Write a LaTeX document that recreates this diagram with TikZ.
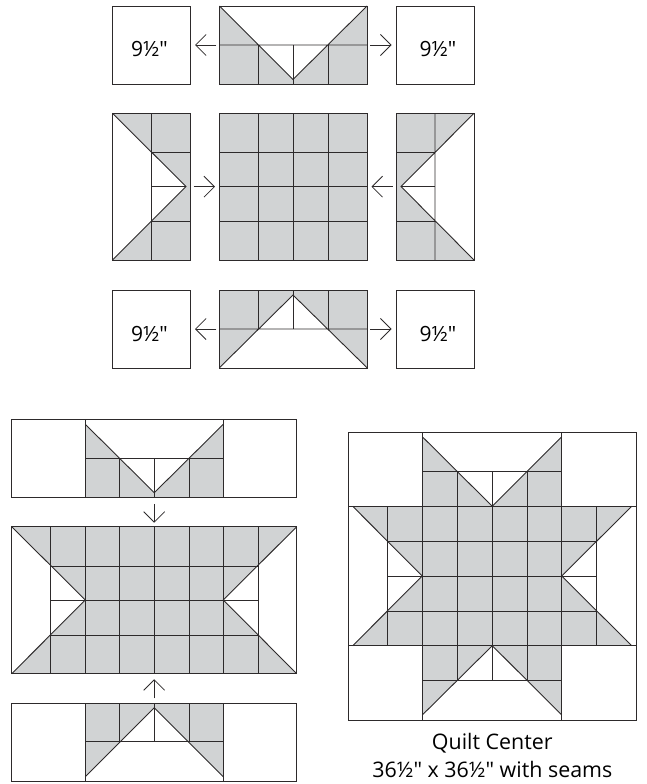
\documentclass[tikz,border=0pt]{standalone}
\usepackage{fontspec}
\newfontfamily\quiltfont{Open Sans}
\usepackage{xcolor}
\usetikzlibrary{arrows.meta}
\definecolor{patchgray}{RGB}{209,211,212}
\definecolor{seamink}{RGB}{45,42,43}
\newcommand{\nine}[1]{\raisebox{-12pt}[0pt][0pt]{\hspace{#1}9½"}}
\begin{document}
\begin{tikzpicture}[
      x=1pt,y=-1pt,
      font=\quiltfont\fontsize{21pt}{24pt}\selectfont,
      block/.style={draw=seamink,line width=0.9pt,inner sep=0pt,outer sep=0pt,
                    minimum width=#1,minimum height=78pt},
      block/.default=78pt,
      patch/.style={fill=patchgray},
      seam/.style={draw=seamink,line width=0.9pt},
      ar/.style={-{Straight Barb[length=10.5pt,width=21pt]},line width=0.8pt,color=seamink,
                 shorten >=4.5pt,shorten <=3.2pt},
      tag/.style={font=\quiltfont\fontsize{21.4pt}{28pt}\selectfont,align=center,inner sep=0pt}]
      \useasboundingbox (0,0) rectangle (646,784);
      % first stage
      \fill[patch] (219.5,6) -- (293,79.5) -- (367,6) -- (367,84) -- (219.5,84) -- cycle;
      \fill[patch] (219.5,290) -- (367,290) -- (367,367.7) -- (293,295) -- (219.5,367.7) -- cycle;
      \fill[patch] (112.5,113.3) -- (186,186.5) -- (112.5,260) -- (190.5,260) -- (190.5,113.3) -- cycle;
      \fill[patch] (474,113.3) -- (401,186.5) -- (474,260) -- (396,260) -- (396,113.3) -- cycle;
      \fill[patch] (219.5,113.3) rectangle (367,260);
      \node[block] (nineA) at (151.5,45) {\nine{-4pt}};
      \node[block=147.5pt] (upblk) at (293.25,45) {};
      \node[block] (nineB) at (435,45) {\nine{6pt}};
      \node[block,minimum height=146.7pt] (leftblk) at (151.5,186.65) {};
      \node[block=147.5pt,minimum height=146.7pt] (gridblk) at (293.25,186.65) {};
      \node[block,minimum height=146.7pt] (rightblk) at (435,186.65) {};
      \node[block] (nineC) at (151.5,329) {\nine{-4pt}};
      \node[block=147.5pt] (lowblk) at (293.25,329) {};
      \node[block] (nineD) at (435,329) {\nine{6pt}};
      \draw[seam] (219.5,6) -- (293,79.5) -- (367,6) (219.5,45) -- (367,45);
      \draw[seam] (219.5,367.7) -- (293,295) -- (367,367.7) (219.5,329) -- (367,329);
      \foreach \x in {258.5,293,328} {
        \draw[seam] (\x,45) -- (\x,84);
        \draw[seam] (\x,290) -- (\x,329);
        \draw[seam] (\x,113.3) -- (\x,260);
      }
      \foreach \y in {152.5,186.5,221.5} \draw[seam] (219.5,\y) -- (367,\y);
      \draw[seam] (112.5,113.3) -- (186,186.5) -- (112.5,260) (151.5,113.3) -- (151.5,260);
      \draw[seam] (151.5,152.5) -- (190.5,152.5) (151.5,186.5) -- (186,186.5) (151.5,221.5) -- (190.5,221.5);
      \draw[seam] (474,113.3) -- (401,186.5) -- (474,260) (435,113.3) -- (435,260);
      \draw[seam] (396,152.5) -- (435,152.5) (401,186.5) -- (435,186.5) (396,221.5) -- (435,221.5);
      \draw[ar,yshift=-1.7pt] (upblk) -- (nineA);
      \draw[ar,yshift=-1.7pt] (upblk) -- (nineB);
      \draw[ar] (leftblk) -- (gridblk);
      \draw[ar] (rightblk) -- (gridblk);
      \draw[ar] (lowblk) -- (nineC);
      \draw[ar] (lowblk) -- (nineD);
      % second stage
      \fill[patch] (85.3,424.3) -- (154.3,492.7) -- (223.3,424.3) -- (223.3,497.3) -- (85.3,497.3) -- cycle;
      \fill[patch] (85.3,703) -- (223.3,703) -- (223.3,776.7) -- (154.3,707.7) -- (85.3,776.7) -- cycle;
      \fill[patch] (11.7,526.7) -- (296.7,526.7) -- (223.3,600) -- (296.7,673.7) -- (11.7,673.7) -- (85.3,600) -- cycle;
      \node[block=285pt] (upstrip) at (154.2,458.3) {};
      \node[block=285pt,minimum height=147pt] (midband) at (154.2,600.2) {};
      \node[block=285pt] (lowstrip) at (154.2,742) {};
      \draw[seam] (85.3,419.3) -- (85.3,497.3) (223.3,419.3) -- (223.3,497.3) (85.3,458.3) -- (223.3,458.3);
      \draw[seam] (85.3,424.3) -- (154.3,492.7) -- (223.3,424.3);
      \draw[seam] (85.3,703) -- (85.3,781) (223.3,703) -- (223.3,781) (85.3,741.7) -- (223.3,741.7);
      \draw[seam] (85.3,776.7) -- (154.3,707.7) -- (223.3,776.7);
      \foreach \x in {119.7,154.3,189} {
        \draw[seam] (\x,458.3) -- (\x,497.3);
        \draw[seam] (\x,703) -- (\x,741.7);
      }
      \foreach \x in {50.7,85.3,119.7,154.3,189,223.3,258} \draw[seam] (\x,526.7) -- (\x,673.7);
      \foreach \y in {566,600,635} \draw[seam] (50.7,\y) -- (258,\y);
      \draw[seam] (11.7,526.7) -- (85.3,600) -- (11.7,673.7) (296.7,526.7) -- (223.3,600) -- (296.7,673.7);
      \draw[ar,shorten <=6.5pt,shorten >=4pt] (upstrip) -- (midband);
      \draw[ar,shorten <=4.7pt,shorten >=5.5pt] (lowstrip) -- (midband);
      % finished center
      \fill[patch] (422.3,436.7) -- (492.3,506.3) -- (561.7,436.7) -- (561.7,506.3) -- (631.7,506.3)
        -- (561.7,576) -- (631.7,645.7) -- (561.7,645.7) -- (561.7,715) -- (492.3,645.7)
        -- (422.3,715) -- (422.3,645.7) -- (352.7,645.7) -- (422.3,576) -- (352.7,506.3) -- (422.3,506.3) -- cycle;
      \node[block=288.7pt,minimum height=288pt] (quilt) at (492.35,576) {};
      \draw[seam] (422.3,432) -- (422.3,720) (561.7,432) -- (561.7,720);
      \draw[seam] (348,506.3) -- (636.7,506.3) (348,645.7) -- (636.7,645.7);
      \draw[seam] (387.7,506.3) -- (387.7,645.7) (596.7,506.3) -- (596.7,645.7);
      \draw[seam] (422.3,471.7) -- (561.7,471.7) (422.3,680.7) -- (561.7,680.7);
      \foreach \x in {457.3,492.3,527.3} \draw[seam] (\x,471.7) -- (\x,680.7);
      \foreach \y in {541.3,576,611} \draw[seam] (387.7,\y) -- (596.7,\y);
      \draw[seam] (422.3,436.7) -- (492.3,506.3) -- (561.7,436.7);
      \draw[seam] (422.3,715) -- (492.3,645.7) -- (561.7,715);
      \draw[seam] (352.7,506.3) -- (422.3,576) -- (352.7,645.7);
      \draw[seam] (631.7,506.3) -- (561.7,576) -- (631.7,645.7);
      \node[tag] (caption) at (492.3,755.5) {Quilt Center\\36½" x 36½" with seams};
    \end{tikzpicture}
\end{document}
